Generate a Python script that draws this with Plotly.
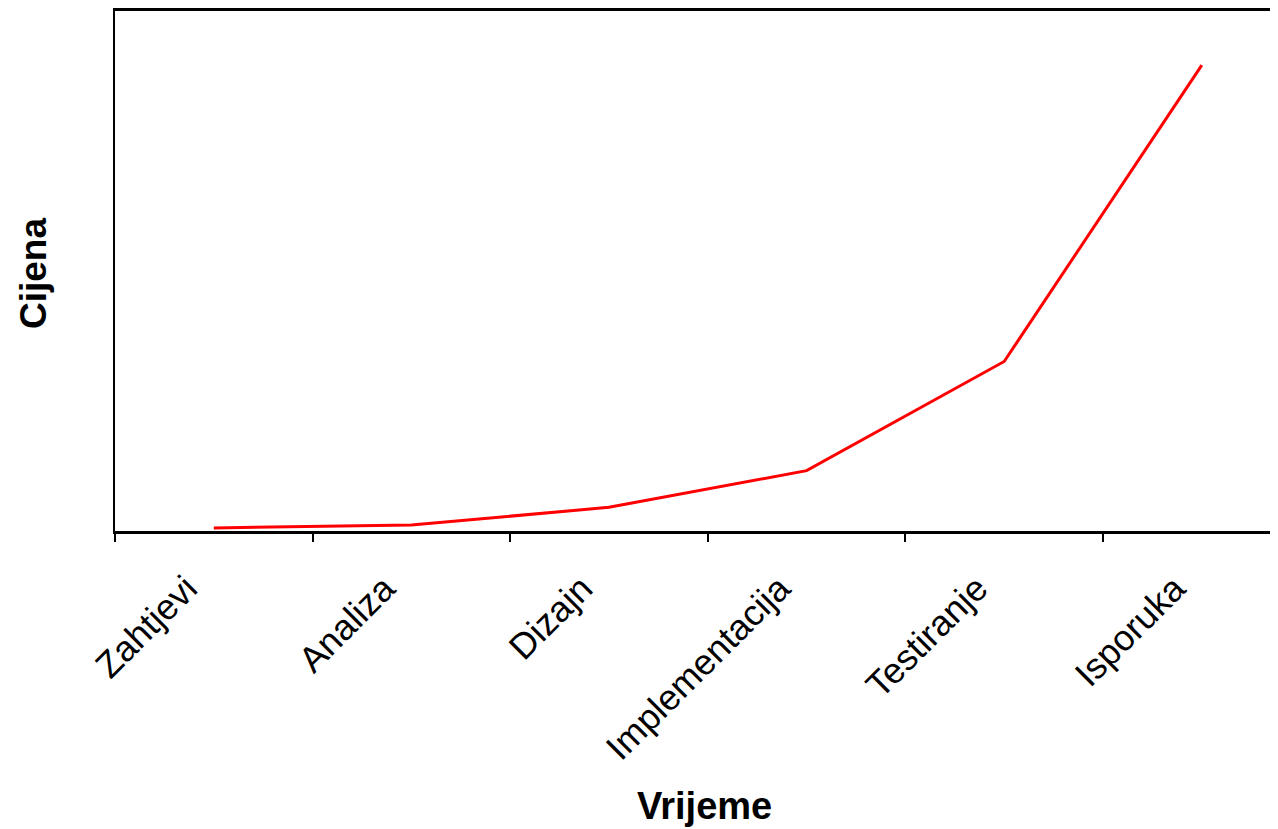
import plotly.graph_objects as go

categories = ["Zahtjevi", "Analiza", "Dizajn", "Implementacija", "Testiranje", "Isporuka"]
cost = [0.6, 1.15, 4.55, 11.6, 32.6, 89.6]
x_title = "Vrijeme"
y_title = "Cijena"

# the page body has an 8px default margin, so the figure is laid out 8px smaller
OFF = 8
W, H = 1278 - OFF, 829 - OFF
L, T = 115 - OFF, 11 - OFF
BOTTOM = 531 - OFF
B = H - BOTTOM
cat_w = 197.6
plot_w = W - L
plot_h = BOTTOM - T
x_range = [-0.5, -0.5 + plot_w / cat_w]

fig = go.Figure()
fig.add_trace(go.Scatter(
    x=categories, y=cost, mode="lines",
    line=dict(color="#ff0000", width=3),
    showlegend=False, hoverinfo="x+y",
))

fig.update_layout(
    width=W, height=H,
    margin=dict(l=L, r=0, t=T, b=B, pad=0),
    paper_bgcolor="white", plot_bgcolor="white",
    font=dict(family="Liberation Sans, Arial, sans-serif", color="black"),
    xaxis=dict(
        type="category", range=x_range,
        showline=True, linecolor="black", linewidth=3, mirror=True,
        ticks="outside", tickson="boundaries", ticklen=8, tickwidth=2, tickcolor="black",
        tickangle=-45, tickfont=dict(size=36, color="black"),
        ticklabelstandoff=19, ticklabelshift=-27,
        showgrid=False, zeroline=False,
    ),
    yaxis=dict(
        range=[0, 100], showline=True, linecolor="black", linewidth=2,
        showticklabels=False, ticks="", showgrid=False, zeroline=False,
    ),
    annotations=[
        dict(text=f"<b>{x_title}</b>", xref="paper", yref="paper",
             x=(704 - OFF - L) / plot_w, y=-(806 - 531) / plot_h,
             xanchor="center", yanchor="middle", showarrow=False,
             font=dict(size=38, color="black")),
        dict(text=f"<b>{y_title}</b>", xref="paper", yref="paper",
             x=-(115 - 33) / plot_w, y=(531 - 274) / plot_h,
             xanchor="center", yanchor="middle", textangle=-90, showarrow=False,
             font=dict(size=37, color="black")),
    ],
)

fig.write_html("out.html")
